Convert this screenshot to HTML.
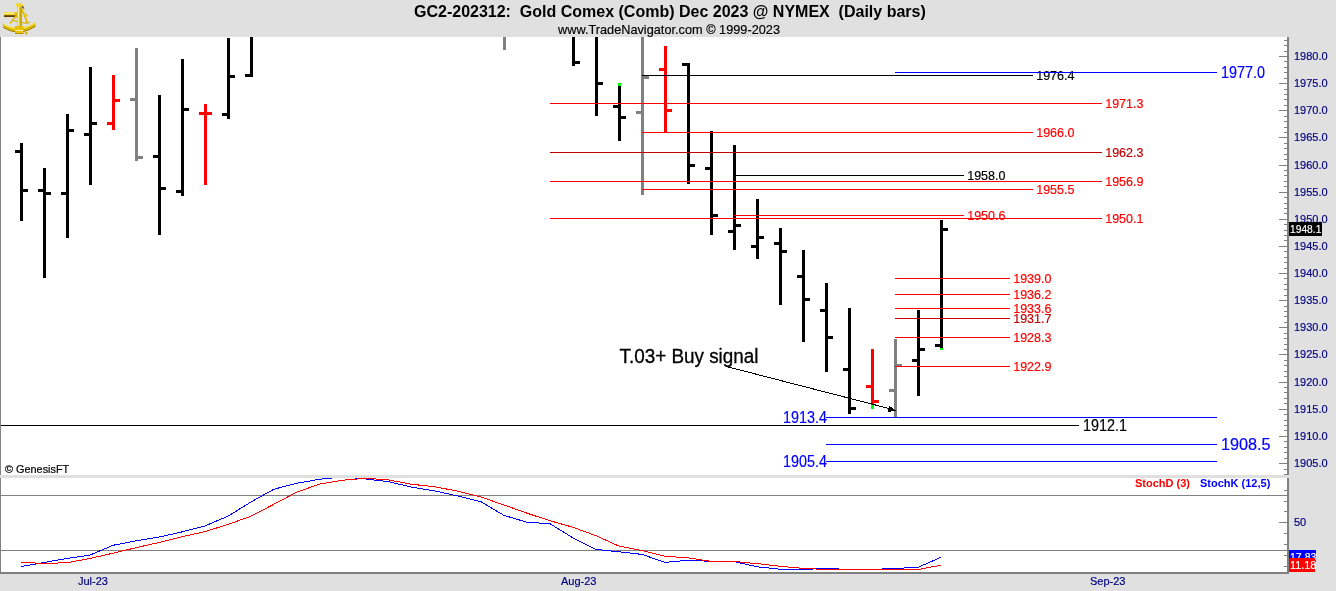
<!DOCTYPE html><html><head><meta charset="utf-8"><title>GC2-202312 Gold Comex Daily bars</title>
<style>html,body{margin:0;padding:0;background:#e0e0e0;overflow:hidden;}svg{display:block;font-family:"Liberation Sans",Arial,Helvetica,sans-serif;}text{white-space:pre;}</style></head><body>
<svg width="1336" height="591" viewBox="0 0 1336 591">
<g shape-rendering="crispEdges">
<rect x="0" y="0" width="1336" height="591" fill="#e0e0e0"/>
<rect x="1" y="37" width="1286" height="438" fill="#ffffff"/>
<rect x="0" y="37" width="1" height="438" fill="#808080"/>
<rect x="1" y="478" width="1286" height="94" fill="#ffffff"/>
<rect x="0" y="478" width="1" height="96" fill="#808080"/>
<rect x="0" y="572" width="1289" height="2" fill="#808080"/>
<rect x="1287" y="37" width="2" height="438" fill="#808080"/>
<rect x="1287" y="478" width="2" height="96" fill="#808080"/>
<rect x="1284" y="40" width="3" height="1" fill="#808080"/>
<rect x="1284" y="45" width="3" height="1" fill="#808080"/>
<rect x="1284" y="51" width="3" height="1" fill="#808080"/>
<rect x="1279" y="56" width="8" height="1" fill="#808080"/>
<rect x="1284" y="61" width="3" height="1" fill="#808080"/>
<rect x="1284" y="67" width="3" height="1" fill="#808080"/>
<rect x="1284" y="72" width="3" height="1" fill="#808080"/>
<rect x="1284" y="78" width="3" height="1" fill="#808080"/>
<rect x="1279" y="83" width="8" height="1" fill="#808080"/>
<rect x="1284" y="89" width="3" height="1" fill="#808080"/>
<rect x="1284" y="94" width="3" height="1" fill="#808080"/>
<rect x="1284" y="99" width="3" height="1" fill="#808080"/>
<rect x="1284" y="105" width="3" height="1" fill="#808080"/>
<rect x="1279" y="110" width="8" height="1" fill="#808080"/>
<rect x="1284" y="116" width="3" height="1" fill="#808080"/>
<rect x="1284" y="121" width="3" height="1" fill="#808080"/>
<rect x="1284" y="127" width="3" height="1" fill="#808080"/>
<rect x="1284" y="132" width="3" height="1" fill="#808080"/>
<rect x="1279" y="137" width="8" height="1" fill="#808080"/>
<rect x="1284" y="143" width="3" height="1" fill="#808080"/>
<rect x="1284" y="148" width="3" height="1" fill="#808080"/>
<rect x="1284" y="154" width="3" height="1" fill="#808080"/>
<rect x="1284" y="159" width="3" height="1" fill="#808080"/>
<rect x="1279" y="165" width="8" height="1" fill="#808080"/>
<rect x="1284" y="170" width="3" height="1" fill="#808080"/>
<rect x="1284" y="175" width="3" height="1" fill="#808080"/>
<rect x="1284" y="181" width="3" height="1" fill="#808080"/>
<rect x="1284" y="186" width="3" height="1" fill="#808080"/>
<rect x="1279" y="192" width="8" height="1" fill="#808080"/>
<rect x="1284" y="197" width="3" height="1" fill="#808080"/>
<rect x="1284" y="203" width="3" height="1" fill="#808080"/>
<rect x="1284" y="208" width="3" height="1" fill="#808080"/>
<rect x="1284" y="213" width="3" height="1" fill="#808080"/>
<rect x="1279" y="219" width="8" height="1" fill="#808080"/>
<rect x="1284" y="224" width="3" height="1" fill="#808080"/>
<rect x="1284" y="230" width="3" height="1" fill="#808080"/>
<rect x="1284" y="235" width="3" height="1" fill="#808080"/>
<rect x="1284" y="240" width="3" height="1" fill="#808080"/>
<rect x="1279" y="246" width="8" height="1" fill="#808080"/>
<rect x="1284" y="251" width="3" height="1" fill="#808080"/>
<rect x="1284" y="257" width="3" height="1" fill="#808080"/>
<rect x="1284" y="262" width="3" height="1" fill="#808080"/>
<rect x="1284" y="268" width="3" height="1" fill="#808080"/>
<rect x="1279" y="273" width="8" height="1" fill="#808080"/>
<rect x="1284" y="278" width="3" height="1" fill="#808080"/>
<rect x="1284" y="284" width="3" height="1" fill="#808080"/>
<rect x="1284" y="289" width="3" height="1" fill="#808080"/>
<rect x="1284" y="295" width="3" height="1" fill="#808080"/>
<rect x="1279" y="300" width="8" height="1" fill="#808080"/>
<rect x="1284" y="306" width="3" height="1" fill="#808080"/>
<rect x="1284" y="311" width="3" height="1" fill="#808080"/>
<rect x="1284" y="316" width="3" height="1" fill="#808080"/>
<rect x="1284" y="322" width="3" height="1" fill="#808080"/>
<rect x="1279" y="327" width="8" height="1" fill="#808080"/>
<rect x="1284" y="333" width="3" height="1" fill="#808080"/>
<rect x="1284" y="338" width="3" height="1" fill="#808080"/>
<rect x="1284" y="344" width="3" height="1" fill="#808080"/>
<rect x="1284" y="349" width="3" height="1" fill="#808080"/>
<rect x="1279" y="354" width="8" height="1" fill="#808080"/>
<rect x="1284" y="360" width="3" height="1" fill="#808080"/>
<rect x="1284" y="365" width="3" height="1" fill="#808080"/>
<rect x="1284" y="371" width="3" height="1" fill="#808080"/>
<rect x="1284" y="376" width="3" height="1" fill="#808080"/>
<rect x="1279" y="382" width="8" height="1" fill="#808080"/>
<rect x="1284" y="387" width="3" height="1" fill="#808080"/>
<rect x="1284" y="392" width="3" height="1" fill="#808080"/>
<rect x="1284" y="398" width="3" height="1" fill="#808080"/>
<rect x="1284" y="403" width="3" height="1" fill="#808080"/>
<rect x="1279" y="409" width="8" height="1" fill="#808080"/>
<rect x="1284" y="414" width="3" height="1" fill="#808080"/>
<rect x="1284" y="420" width="3" height="1" fill="#808080"/>
<rect x="1284" y="425" width="3" height="1" fill="#808080"/>
<rect x="1284" y="430" width="3" height="1" fill="#808080"/>
<rect x="1279" y="436" width="8" height="1" fill="#808080"/>
<rect x="1284" y="441" width="3" height="1" fill="#808080"/>
<rect x="1284" y="447" width="3" height="1" fill="#808080"/>
<rect x="1284" y="452" width="3" height="1" fill="#808080"/>
<rect x="1284" y="458" width="3" height="1" fill="#808080"/>
<rect x="1279" y="463" width="8" height="1" fill="#808080"/>
<rect x="1284" y="469" width="3" height="1" fill="#808080"/>
<rect x="1284" y="474" width="3" height="1" fill="#808080"/>
<rect x="1284" y="490" width="3" height="1" fill="#808080"/>
<rect x="1284" y="501" width="3" height="1" fill="#808080"/>
<rect x="1284" y="511" width="3" height="1" fill="#808080"/>
<rect x="1279" y="522" width="8" height="1" fill="#808080"/>
<rect x="1284" y="533" width="3" height="1" fill="#808080"/>
<rect x="1284" y="544" width="3" height="1" fill="#808080"/>
<rect x="1284" y="555" width="3" height="1" fill="#808080"/>
<rect x="1284" y="566" width="3" height="1" fill="#808080"/>
<rect x="1" y="495" width="1286" height="1" fill="#808080"/>
<rect x="1" y="550" width="1286" height="1" fill="#808080"/>
<g clip-path="url(#mainclip)">
<rect x="20" y="143" width="3" height="78" fill="#000000"/>
<rect x="15" y="150" width="5" height="3" fill="#000000"/>
<rect x="23" y="189" width="5" height="3" fill="#000000"/>
<rect x="43" y="168" width="3" height="110" fill="#000000"/>
<rect x="38" y="189" width="5" height="3" fill="#000000"/>
<rect x="46" y="192" width="5" height="3" fill="#000000"/>
<rect x="66" y="114" width="3" height="124" fill="#000000"/>
<rect x="61" y="192" width="5" height="3" fill="#000000"/>
<rect x="69" y="129" width="5" height="3" fill="#000000"/>
<rect x="89" y="67" width="3" height="118" fill="#000000"/>
<rect x="84" y="133" width="5" height="3" fill="#000000"/>
<rect x="92" y="122" width="5" height="3" fill="#000000"/>
<rect x="112" y="75" width="3" height="55" fill="#ff0000"/>
<rect x="107" y="122" width="5" height="3" fill="#ff0000"/>
<rect x="115" y="99" width="5" height="3" fill="#ff0000"/>
<rect x="135" y="48" width="3" height="113" fill="#808080"/>
<rect x="130" y="98" width="5" height="3" fill="#808080"/>
<rect x="138" y="156" width="5" height="3" fill="#808080"/>
<rect x="158" y="95" width="3" height="140" fill="#000000"/>
<rect x="153" y="155" width="5" height="3" fill="#000000"/>
<rect x="161" y="187" width="5" height="3" fill="#000000"/>
<rect x="181" y="59" width="3" height="137" fill="#000000"/>
<rect x="176" y="190" width="5" height="3" fill="#000000"/>
<rect x="184" y="108" width="5" height="3" fill="#000000"/>
<rect x="204" y="104" width="3" height="81" fill="#ff0000"/>
<rect x="199" y="112" width="5" height="3" fill="#ff0000"/>
<rect x="207" y="112" width="5" height="3" fill="#ff0000"/>
<rect x="227" y="38" width="3" height="81" fill="#000000"/>
<rect x="222" y="113" width="5" height="3" fill="#000000"/>
<rect x="230" y="75" width="5" height="3" fill="#000000"/>
<rect x="250" y="37" width="3" height="40" fill="#000000"/>
<rect x="245" y="74" width="5" height="3" fill="#000000"/>
<rect x="503" y="37" width="3" height="13" fill="#808080"/>
<rect x="572" y="37" width="3" height="29" fill="#000000"/>
<rect x="575" y="61" width="5" height="3" fill="#000000"/>
<rect x="595" y="37" width="3" height="79" fill="#000000"/>
<rect x="598" y="82" width="5" height="3" fill="#000000"/>
<rect x="618" y="86" width="3" height="55" fill="#000000"/>
<rect x="613" y="105" width="5" height="3" fill="#000000"/>
<rect x="621" y="116" width="5" height="3" fill="#000000"/>
<rect x="641" y="37" width="3" height="158" fill="#808080"/>
<rect x="636" y="111" width="5" height="3" fill="#808080"/>
<rect x="644" y="76" width="5" height="3" fill="#808080"/>
<rect x="664" y="46" width="3" height="87" fill="#ff0000"/>
<rect x="659" y="68" width="5" height="3" fill="#ff0000"/>
<rect x="667" y="109" width="5" height="3" fill="#ff0000"/>
<rect x="687" y="63" width="3" height="121" fill="#000000"/>
<rect x="682" y="63" width="5" height="3" fill="#000000"/>
<rect x="690" y="164" width="5" height="3" fill="#000000"/>
<rect x="710" y="131" width="3" height="104" fill="#000000"/>
<rect x="705" y="167" width="5" height="3" fill="#000000"/>
<rect x="713" y="214" width="5" height="3" fill="#000000"/>
<rect x="733" y="145" width="3" height="105" fill="#000000"/>
<rect x="728" y="230" width="5" height="3" fill="#000000"/>
<rect x="736" y="224" width="5" height="3" fill="#000000"/>
<rect x="756" y="199" width="3" height="60" fill="#000000"/>
<rect x="751" y="245" width="5" height="3" fill="#000000"/>
<rect x="759" y="236" width="5" height="3" fill="#000000"/>
<rect x="779" y="228" width="3" height="77" fill="#000000"/>
<rect x="774" y="242" width="5" height="3" fill="#000000"/>
<rect x="782" y="250" width="5" height="3" fill="#000000"/>
<rect x="802" y="250" width="3" height="92" fill="#000000"/>
<rect x="797" y="275" width="5" height="3" fill="#000000"/>
<rect x="805" y="298" width="5" height="3" fill="#000000"/>
<rect x="825" y="283" width="3" height="89" fill="#000000"/>
<rect x="820" y="309" width="5" height="3" fill="#000000"/>
<rect x="828" y="336" width="5" height="3" fill="#000000"/>
<rect x="848" y="308" width="3" height="106" fill="#000000"/>
<rect x="843" y="368" width="5" height="3" fill="#000000"/>
<rect x="851" y="407" width="5" height="3" fill="#000000"/>
<rect x="871" y="349" width="3" height="56" fill="#ff0000"/>
<rect x="866" y="385" width="5" height="3" fill="#ff0000"/>
<rect x="874" y="400" width="5" height="3" fill="#ff0000"/>
<rect x="894" y="339" width="3" height="78" fill="#808080"/>
<rect x="889" y="389" width="5" height="3" fill="#808080"/>
<rect x="897" y="364" width="5" height="3" fill="#808080"/>
<rect x="917" y="310" width="3" height="86" fill="#000000"/>
<rect x="912" y="359" width="5" height="3" fill="#000000"/>
<rect x="920" y="348" width="5" height="3" fill="#000000"/>
<rect x="940" y="220" width="3" height="128" fill="#000000"/>
<rect x="935" y="344" width="5" height="3" fill="#000000"/>
<rect x="943" y="228" width="5" height="3" fill="#000000"/>
<rect x="618" y="83" width="3" height="3" fill="#00ff00"/>
<rect x="871" y="405" width="3" height="4" fill="#00ff00"/>
<rect x="940" y="348" width="3" height="2" fill="#00ff00"/>
</g>
</g>
<rect x="642" y="75" width="391" height="1" fill="#000000" shape-rendering="crispEdges"/>
<text x="1036.2" y="79.5" font-size="12.5" fill="#000000" stroke="#000000" stroke-width="0.18" font-weight="normal" text-anchor="start" >1976.4</text>
<rect x="895" y="72" width="322" height="1" fill="#0000ff" shape-rendering="crispEdges"/>
<text x="1221" y="78.2" font-size="15.8" fill="#0000ff" stroke="#0000ff" stroke-width="0.18" font-weight="normal" text-anchor="start" textLength="44" lengthAdjust="spacingAndGlyphs">1977.0</text>
<rect x="550" y="103" width="552" height="1" fill="#ff0000" shape-rendering="crispEdges"/>
<text x="1105.2" y="107.5" font-size="12.5" fill="#ff0000" stroke="#ff0000" stroke-width="0.18" font-weight="normal" text-anchor="start" >1971.3</text>
<rect x="642" y="132" width="391" height="1" fill="#ff0000" shape-rendering="crispEdges"/>
<text x="1036.2" y="136.5" font-size="12.5" fill="#ff0000" stroke="#ff0000" stroke-width="0.18" font-weight="normal" text-anchor="start" >1966.0</text>
<rect x="550" y="152" width="552" height="1" fill="#c00000" shape-rendering="crispEdges"/>
<text x="1105.2" y="156.5" font-size="12.5" fill="#c00000" stroke="#c00000" stroke-width="0.18" font-weight="normal" text-anchor="start" >1962.3</text>
<rect x="734" y="175" width="230" height="1" fill="#000000" shape-rendering="crispEdges"/>
<text x="967.2" y="179.5" font-size="12.5" fill="#000000" stroke="#000000" stroke-width="0.18" font-weight="normal" text-anchor="start" >1958.0</text>
<rect x="550" y="181" width="552" height="1" fill="#ff0000" shape-rendering="crispEdges"/>
<text x="1105.2" y="185.5" font-size="12.5" fill="#ff0000" stroke="#ff0000" stroke-width="0.18" font-weight="normal" text-anchor="start" >1956.9</text>
<rect x="642" y="189" width="391" height="1" fill="#ff0000" shape-rendering="crispEdges"/>
<text x="1036.2" y="193.5" font-size="12.5" fill="#ff0000" stroke="#ff0000" stroke-width="0.18" font-weight="normal" text-anchor="start" >1955.5</text>
<rect x="734" y="215" width="230" height="1" fill="#ff0000" shape-rendering="crispEdges"/>
<text x="967.2" y="219.5" font-size="12.5" fill="#ff0000" stroke="#ff0000" stroke-width="0.18" font-weight="normal" text-anchor="start" >1950.6</text>
<rect x="550" y="218" width="552" height="1" fill="#ff0000" shape-rendering="crispEdges"/>
<text x="1105.2" y="222.5" font-size="12.5" fill="#ff0000" stroke="#ff0000" stroke-width="0.18" font-weight="normal" text-anchor="start" >1950.1</text>
<rect x="895" y="278" width="115" height="1" fill="#ff0000" shape-rendering="crispEdges"/>
<text x="1013.2" y="282.5" font-size="12.5" fill="#ff0000" stroke="#ff0000" stroke-width="0.18" font-weight="normal" text-anchor="start" >1939.0</text>
<rect x="895" y="294" width="115" height="1" fill="#ff0000" shape-rendering="crispEdges"/>
<text x="1013.2" y="298.5" font-size="12.5" fill="#ff0000" stroke="#ff0000" stroke-width="0.18" font-weight="normal" text-anchor="start" >1936.2</text>
<rect x="895" y="308" width="115" height="1" fill="#ff0000" shape-rendering="crispEdges"/>
<text x="1013.2" y="312.5" font-size="12.5" fill="#ff0000" stroke="#ff0000" stroke-width="0.18" font-weight="normal" text-anchor="start" >1933.6</text>
<rect x="895" y="318" width="115" height="1" fill="#c00000" shape-rendering="crispEdges"/>
<text x="1013.2" y="322.5" font-size="12.5" fill="#c00000" stroke="#c00000" stroke-width="0.18" font-weight="normal" text-anchor="start" >1931.7</text>
<rect x="895" y="337" width="115" height="1" fill="#ff0000" shape-rendering="crispEdges"/>
<text x="1013.2" y="341.5" font-size="12.5" fill="#ff0000" stroke="#ff0000" stroke-width="0.18" font-weight="normal" text-anchor="start" >1928.3</text>
<rect x="895" y="366" width="115" height="1" fill="#ff0000" shape-rendering="crispEdges"/>
<text x="1013.2" y="370.5" font-size="12.5" fill="#ff0000" stroke="#ff0000" stroke-width="0.18" font-weight="normal" text-anchor="start" >1922.9</text>
<rect x="826" y="417" width="391" height="1" fill="#0000ff" shape-rendering="crispEdges"/>
<text x="783" y="423.2" font-size="15.8" fill="#0000ff" stroke="#0000ff" stroke-width="0.18" font-weight="normal" text-anchor="start" textLength="44" lengthAdjust="spacingAndGlyphs">1913.4</text>
<rect x="1" y="425" width="1078" height="1" fill="#000000" shape-rendering="crispEdges"/>
<text x="1083" y="431.2" font-size="15.8" fill="#000000" stroke="#000000" stroke-width="0.18" font-weight="normal" text-anchor="start" textLength="44" lengthAdjust="spacingAndGlyphs">1912.1</text>
<rect x="826" y="444" width="391" height="1" fill="#0000ff" shape-rendering="crispEdges"/>
<text x="1221" y="450.3" font-size="17" fill="#0000ff" stroke="#0000ff" stroke-width="0.18" font-weight="normal" text-anchor="start" textLength="49.6" lengthAdjust="spacingAndGlyphs">1908.5</text>
<rect x="826" y="461" width="391" height="1" fill="#0000ff" shape-rendering="crispEdges"/>
<text x="783" y="467.2" font-size="15.8" fill="#0000ff" stroke="#0000ff" stroke-width="0.18" font-weight="normal" text-anchor="start" textLength="44" lengthAdjust="spacingAndGlyphs">1905.4</text>
<line x1="726" y1="366.4" x2="889" y2="408.5" stroke="#000" stroke-width="1" shape-rendering="crispEdges"/>
<polygon points="896,410.8 889.2,405.5 887.4,412.1" fill="#000" shape-rendering="crispEdges"/>
<text x="619.5" y="363" font-size="19.5" fill="#000" font-weight="normal" text-anchor="start" textLength="139" lengthAdjust="spacingAndGlyphs" stroke="#000" stroke-width="0.3">T.03+ Buy signal</text>
<text x="1294" y="467.0" font-size="11.5" fill="#000080" stroke="#000080" stroke-width="0.18" font-weight="normal" text-anchor="start" textLength="33.6" lengthAdjust="spacingAndGlyphs">1905.0</text>
<text x="1294" y="439.8666666666667" font-size="11.5" fill="#000080" stroke="#000080" stroke-width="0.18" font-weight="normal" text-anchor="start" textLength="33.6" lengthAdjust="spacingAndGlyphs">1910.0</text>
<text x="1294" y="412.73333333333335" font-size="11.5" fill="#000080" stroke="#000080" stroke-width="0.18" font-weight="normal" text-anchor="start" textLength="33.6" lengthAdjust="spacingAndGlyphs">1915.0</text>
<text x="1294" y="385.6" font-size="11.5" fill="#000080" stroke="#000080" stroke-width="0.18" font-weight="normal" text-anchor="start" textLength="33.6" lengthAdjust="spacingAndGlyphs">1920.0</text>
<text x="1294" y="358.4666666666667" font-size="11.5" fill="#000080" stroke="#000080" stroke-width="0.18" font-weight="normal" text-anchor="start" textLength="33.6" lengthAdjust="spacingAndGlyphs">1925.0</text>
<text x="1294" y="331.3333333333333" font-size="11.5" fill="#000080" stroke="#000080" stroke-width="0.18" font-weight="normal" text-anchor="start" textLength="33.6" lengthAdjust="spacingAndGlyphs">1930.0</text>
<text x="1294" y="304.2" font-size="11.5" fill="#000080" stroke="#000080" stroke-width="0.18" font-weight="normal" text-anchor="start" textLength="33.6" lengthAdjust="spacingAndGlyphs">1935.0</text>
<text x="1294" y="277.06666666666666" font-size="11.5" fill="#000080" stroke="#000080" stroke-width="0.18" font-weight="normal" text-anchor="start" textLength="33.6" lengthAdjust="spacingAndGlyphs">1940.0</text>
<text x="1294" y="249.93333333333334" font-size="11.5" fill="#000080" stroke="#000080" stroke-width="0.18" font-weight="normal" text-anchor="start" textLength="33.6" lengthAdjust="spacingAndGlyphs">1945.0</text>
<text x="1294" y="222.8" font-size="11.5" fill="#000080" stroke="#000080" stroke-width="0.18" font-weight="normal" text-anchor="start" textLength="33.6" lengthAdjust="spacingAndGlyphs">1950.0</text>
<text x="1294" y="195.66666666666663" font-size="11.5" fill="#000080" stroke="#000080" stroke-width="0.18" font-weight="normal" text-anchor="start" textLength="33.6" lengthAdjust="spacingAndGlyphs">1955.0</text>
<text x="1294" y="168.5333333333333" font-size="11.5" fill="#000080" stroke="#000080" stroke-width="0.18" font-weight="normal" text-anchor="start" textLength="33.6" lengthAdjust="spacingAndGlyphs">1960.0</text>
<text x="1294" y="141.39999999999998" font-size="11.5" fill="#000080" stroke="#000080" stroke-width="0.18" font-weight="normal" text-anchor="start" textLength="33.6" lengthAdjust="spacingAndGlyphs">1965.0</text>
<text x="1294" y="114.26666666666667" font-size="11.5" fill="#000080" stroke="#000080" stroke-width="0.18" font-weight="normal" text-anchor="start" textLength="33.6" lengthAdjust="spacingAndGlyphs">1970.0</text>
<text x="1294" y="87.13333333333334" font-size="11.5" fill="#000080" stroke="#000080" stroke-width="0.18" font-weight="normal" text-anchor="start" textLength="33.6" lengthAdjust="spacingAndGlyphs">1975.0</text>
<text x="1294" y="60.0" font-size="11.5" fill="#000080" stroke="#000080" stroke-width="0.18" font-weight="normal" text-anchor="start" textLength="33.6" lengthAdjust="spacingAndGlyphs">1980.0</text>
<rect x="1289" y="222" width="33" height="14" fill="#000000"/>
<text x="1290" y="233" font-size="11" fill="#ffffff" stroke="#ffffff" stroke-width="0.18" font-weight="normal" text-anchor="start" textLength="31.4" lengthAdjust="spacingAndGlyphs">1948.1</text>
<text x="5.0" y="473" font-size="11" fill="#000" font-weight="normal" text-anchor="start" textLength="64.2" lengthAdjust="spacingAndGlyphs" stroke="#000" stroke-width="0.2">© GenesisFT</text>
<polyline points="21,566.6 44,562.5 67,558.4 90,555.1 113,545.3 136,540.8 159,537.1 182,531.9 205,525.9 228,516.2 251,502 274,489.2 297,483.2 320,479.2 343,476.9 366,479.0 389,481.8 412,487.2 435,491 458,496 481,501.7 504,515.4 527,522.2 550,523.7 573,537.9 596,549.4 619,551.8 642,554.4 665,562.4 688,560.3 711,561.3 734,561.5 757,566.8 780,569.2 803,569.5 826,568.4 849,569.5 872,569.5 895,568.4 918,567.4 941,557.2" fill="none" stroke="#0000ff" stroke-width="1" shape-rendering="crispEdges" clip-path="url(#lowclip)"/>
<polyline points="21,562.5 44,563.3 67,562.8 90,558.4 113,553.2 136,547.7 159,542.5 182,536.7 205,531.6 228,524.4 251,516.2 274,504.2 297,492 320,484.0 343,480.2 366,478.2 389,480.0 412,484.3 435,486.8 458,491.2 481,497 504,505 527,513.2 550,520.7 573,527.3 596,535.7 619,546.1 642,550.6 665,556.3 688,557.8 711,561.4 734,561.5 757,563.6 780,566.2 803,568.4 826,569.5 849,569.5 872,569.5 895,569.5 918,569.5 941,565.2" fill="none" stroke="#ff0000" stroke-width="1" shape-rendering="crispEdges" clip-path="url(#lowclip)"/>
<text x="1135" y="487" font-size="11" fill="#ff0000" font-weight="bold" text-anchor="start" >StochD (3)</text>
<text x="1200" y="487" font-size="11" fill="#0000ff" font-weight="bold" text-anchor="start" >StochK (12,5)</text>
<text x="1294" y="526" font-size="11" fill="#000080" stroke="#000080" stroke-width="0.18" font-weight="normal" text-anchor="start" >50</text>
<rect x="1289" y="550" width="27" height="13" fill="#0000ff"/>
<text x="1290" y="561" font-size="11" fill="#ffffff" stroke="#ffffff" stroke-width="0.18" font-weight="normal" text-anchor="start" textLength="26.4" lengthAdjust="spacingAndGlyphs">17.83</text>
<rect x="1289" y="558" width="26" height="14" fill="#ff0000"/>
<text x="1290" y="569" font-size="11" fill="#ffffff" stroke="#ffffff" stroke-width="0.18" font-weight="normal" text-anchor="start" textLength="26.4" lengthAdjust="spacingAndGlyphs">11.18</text>
<text x="78" y="585" font-size="11" fill="#000080" stroke="#000080" stroke-width="0.18" font-weight="normal" text-anchor="start" >Jul-23</text>
<text x="561" y="585" font-size="11" fill="#000080" stroke="#000080" stroke-width="0.18" font-weight="normal" text-anchor="start" >Aug-23</text>
<text x="1090" y="585" font-size="11" fill="#000080" stroke="#000080" stroke-width="0.18" font-weight="normal" text-anchor="start" >Sep-23</text>
<text x="414" y="17" font-size="16" fill="#000" font-weight="bold" text-anchor="start" >GC2-202312:  Gold Comex (Comb) Dec 2023 @ NYMEX  (Daily bars)</text>
<text x="558" y="34" font-size="13.6" fill="#000" stroke="#000" stroke-width="0.18" font-weight="normal" text-anchor="start" textLength="222" lengthAdjust="spacingAndGlyphs">www.TradeNavigator.com © 1999-2023</text>
<g id="logo">
<path d="M2.6,23.2 Q19,32.4 35.3,22.2 L35.7,26.4 Q19,37.6 3.2,27.6 Z" fill="#ecc800"/>
<path d="M3.2,27.4 Q19,37.2 35.5,26.2" stroke="#8a6a00" stroke-width="0.9" fill="none"/>
<path d="M4,24.6 Q19,33 34.5,23.4" stroke="#fff4b0" stroke-width="0.7" fill="none"/>
<path d="M4,26.2 Q19,35 34.5,25" stroke="#c8a000" stroke-width="0.6" fill="none"/>
<rect x="4" y="12" width="12" height="3.6" rx="1.2" fill="#f2d42a"/>
<rect x="4.5" y="12.6" width="10" height="1" fill="#fff6b0"/>
<rect x="4" y="15.2" width="12" height="1.8" fill="#5a4000"/>
<rect x="15" y="12.5" width="3" height="5" fill="#d8b000"/>
<path d="M21.5,8.5 L27.5,23" stroke="#e0bc00" stroke-width="1.8"/>
<path d="M23.5,13.5 L27.5,16" stroke="#ecca20" stroke-width="2.6"/>
<path d="M15,17 L10,23.5" stroke="#e0bc00" stroke-width="1.5"/>
<path d="M12,20.5 L17,21.5" stroke="#d8b400" stroke-width="1"/>
<path d="M20,21.5 Q25,24.5 30,22" stroke="#d8b400" stroke-width="1.1" fill="none"/>
<rect x="17" y="5.5" width="4.5" height="22" fill="#e8c410"/>
<rect x="17.8" y="6" width="1.2" height="20" fill="#fff0a0"/>
<rect x="20.6" y="7" width="0.9" height="20" fill="#a08000"/>
<ellipse cx="19.3" cy="5" rx="3.6" ry="2.1" fill="#f4d830"/>
<path d="M22,6 L24,8.5" stroke="#3a2a00" stroke-width="1.2"/>
<rect x="15" y="26" width="8.5" height="8" fill="#e4c000"/>
<rect x="15.5" y="30" width="7.5" height="1" fill="#fff2a0"/>
<rect x="15" y="33.2" width="8.5" height="0.8" fill="#a88800"/>
<rect x="25" y="32" width="2.5" height="2.5" fill="#e0bc00"/>
</g>
<defs><clipPath id="mainclip"><rect x="0" y="37" width="1287" height="438"/></clipPath><clipPath id="lowclip"><rect x="0" y="478" width="1287" height="94"/></clipPath></defs>
</svg></body></html>
